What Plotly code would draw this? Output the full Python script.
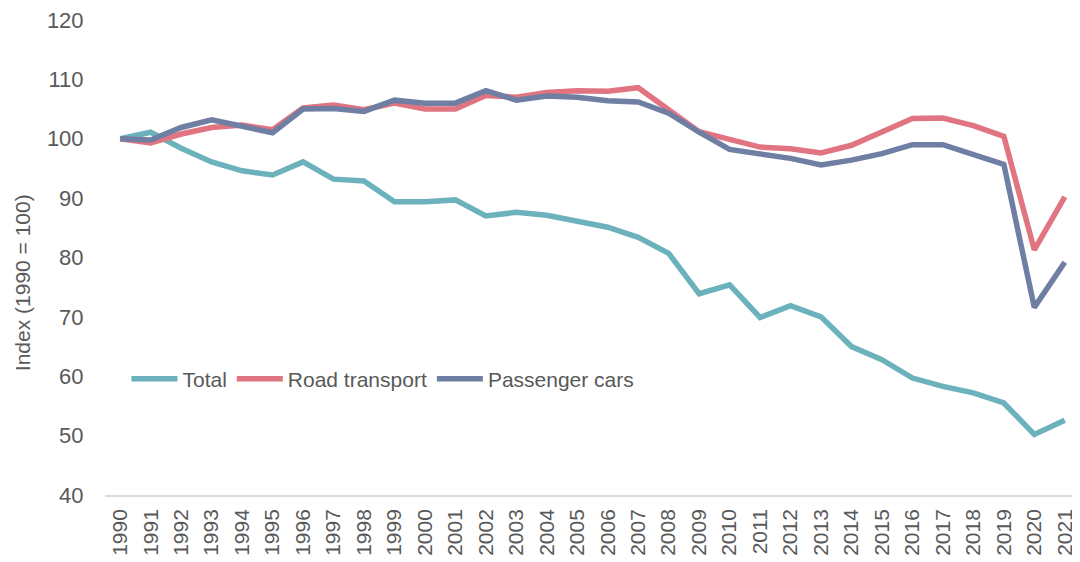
import plotly.graph_objects as go

years = [str(y) for y in range(1990, 2022)]

# index values, 1990 = 100
total = [100, 101.1, 98.4, 96.1, 94.6, 93.9, 96.1, 93.2, 92.9, 89.4, 89.4, 89.7,
         87.0, 87.6, 87.1, 86.0, 85.1, 83.4, 80.7, 73.9, 75.4, 69.9, 71.9, 70.0,
         65.0, 62.8, 59.7, 58.3, 57.2, 55.5, 50.2, 52.6]
road = [100, 99.3, 100.8, 101.9, 102.3, 101.5, 105.2, 105.7, 104.9, 106.0, 105.0, 105.0,
        107.3, 107.0, 107.8, 108.1, 108.0, 108.6, 104.9, 101.2, 99.9, 98.6,
        98.3, 97.6, 98.9, 101.1, 103.4, 103.5, 102.2, 100.4, 81.3, 90.2]
cars = [100, 99.8, 101.9, 103.2, 102.1, 101.0, 105.0, 105.1, 104.6, 106.5, 106.0, 106.0,
        108.1, 106.5, 107.2, 107.0, 106.4, 106.2, 104.3, 101.1, 98.2, 97.4,
        96.7, 95.6, 96.4, 97.5, 99.0, 99.0, 97.3, 95.7, 71.6, 79.2]

series = [("Total", total, "#6cb2bc"),
          ("Road transport", road, "#e07480"),
          ("Passenger cars", cars, "#6f7ea3")]

fig = go.Figure()
for name, vals, col in series:
    fig.add_trace(go.Scatter(x=years, y=vals, mode="lines", name=name,
                             line=dict(color=col, width=5.5)))

grey = "#595959"
# page body has an 8px margin, so the figure is a bit smaller than the window
fig.update_layout(
    width=1072, height=554,
    margin=dict(l=97, r=0, t=12, b=67),
    plot_bgcolor="white", paper_bgcolor="white",
    font=dict(family="Liberation Sans, Arial, sans-serif", color=grey, size=21),
    showlegend=True,
    legend=dict(orientation="h", x=0.022, y=0.244, xanchor="left", yanchor="middle",
                font=dict(size=21, color=grey), bgcolor="rgba(0,0,0,0)",
                itemwidth=46, tracegroupgap=0),
    xaxis=dict(type="category", range=[-0.5, 31.5], showgrid=False,
               showline=True, linecolor="#d9d9d9", linewidth=1.5,
               tickangle=-90, tickfont=dict(size=21, color=grey),
               ticks="outside", ticklen=4, tickcolor="rgba(0,0,0,0)",
               ticklabeloverflow="allow"),
    yaxis=dict(range=[40, 120], dtick=10, showgrid=False, zeroline=False,
               showline=False, tickfont=dict(size=22, color=grey),
               ticks="outside", ticklen=16, tickcolor="rgba(0,0,0,0)",
               ticklabeloverflow="allow"),
    annotations=[dict(text="Index (1990 = 100)", textangle=-90, showarrow=False,
                      xref="paper", yref="paper", x=-0.0851, y=0.446,
                      xanchor="center", yanchor="middle",
                      font=dict(size=21, color=grey))],
)

fig.write_html("out.html")
